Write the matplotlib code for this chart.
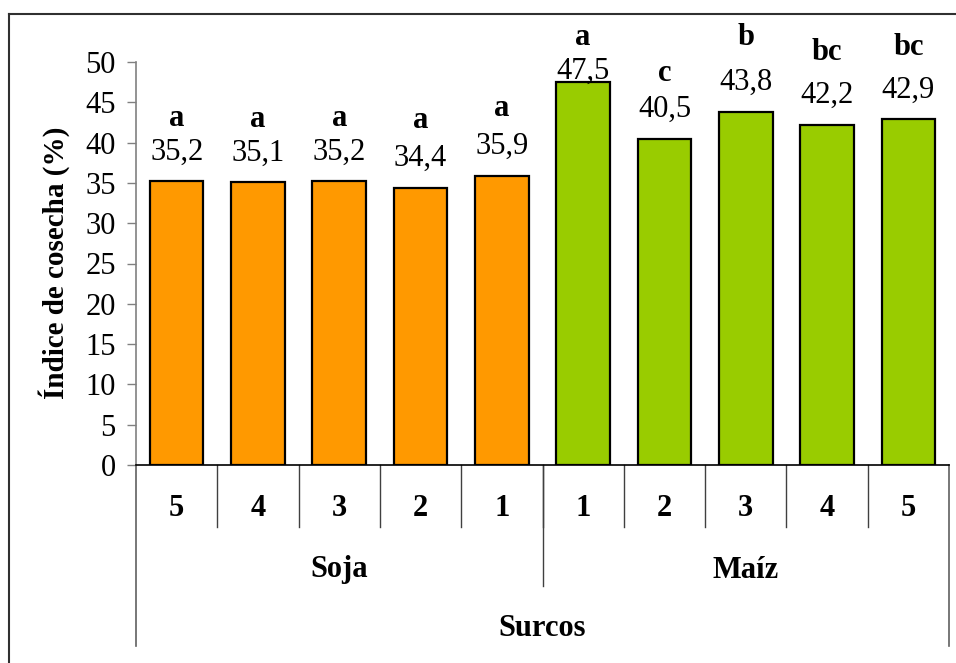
"""Harvest index bar chart for soybean and maize by row spacing."""

import matplotlib.pyplot as plt
from matplotlib.lines import Line2D

# Row-spacing labels (first level) and crop groups (second level)
surcos = ["5", "4", "3", "2", "1", "1", "2", "3", "4", "5"]
cultivos = ["Soja", "Maíz"]
n_por_cultivo = [5, 5]

# Harvest index (%) per bar
indice = [35.2, 35.1, 35.2, 34.4, 35.9, 47.5, 40.5, 43.8, 42.2, 42.9]
# Significance letters per bar
letras = ["a", "a", "a", "a", "a", "a", "c", "b", "bc", "bc"]

colores_cultivo = ["#FF9900", "#99CC00"]
letra_sep = [4.1, 4.1, 4.1, 4.7, 4.7, 4.2, 4.5, 5.6, 5.3, 5.3]  # gap above value label, data units

plt.rcParams["font.family"] = "serif"
plt.rcParams["font.serif"] = ["Liberation Serif"]
FS = 22

W, H, DPI = 956, 663, 100
fig = plt.figure(figsize=(W / DPI, H / DPI), dpi=DPI)

# axes box in pixels: left, top, right, bottom
ax_l, ax_t, ax_r, ax_b = 136, 62, 949, 465
ax = fig.add_axes([ax_l / W, 1 - ax_b / H, (ax_r - ax_l) / W, (ax_b - ax_t) / H])

colores = []
for c, n in zip(colores_cultivo, n_por_cultivo):
    colores += [c] * n

x = list(range(len(indice)))
ax.bar(x, indice, width=0.66, color=colores, edgecolor="black", linewidth=1.6, zorder=3)

ax.set_xlim(-0.5, len(indice) - 0.5)
ax.set_ylim(0, 50)
ax.set_yticks(range(0, 51, 5))
ax.tick_params(axis="y", direction="out", length=6.5, width=1, color="#808080",
               labelsize=FS, pad=8)
ax.set_xticks([])
for s in ("top", "right"):
    ax.spines[s].set_visible(False)
ax.spines["left"].set_color("#808080")
ax.spines["left"].set_linewidth(1.2)
ax.spines["bottom"].set_color("black")
ax.spines["bottom"].set_linewidth(1.2)

# value labels and letters above bars
tope = 47.9
for xi, v, l, sep in zip(x, indice, letras, letra_sep):
    y_val = min(v + 2.7, tope)
    ax.text(xi, y_val, f"{v:.1f}".replace(".", ","), ha="center", va="baseline",
            fontsize=FS, clip_on=False, zorder=4)
    ax.text(xi, y_val + sep, l, ha="center", va="baseline", fontsize=FS,
            fontweight="bold", clip_on=False, zorder=4)

# multi-level category axis below the plot
trans = ax.get_xaxis_transform()
px = 1.0 / (ax_b - ax_t)
y_cat = -(527 - ax_b) * px
y_grp = -(586 - ax_b) * px
y_out = -(646 - ax_b) * px

for xi, lab in zip(x, surcos):
    ax.text(xi, -(509 - ax_b) * px, lab, transform=trans, ha="center", va="center",
            fontsize=FS, fontweight="bold")

for b in range(1, len(indice)):
    ax.add_line(Line2D([b - 0.5, b - 0.5], [0, y_cat], transform=trans, color="#404040",
                       lw=1.0, clip_on=False))

inicio = 0
limites = []
for nombre, n in zip(cultivos, n_por_cultivo):
    centro = inicio + (n - 1) / 2
    ax.text(centro, -(570 - ax_b) * px, nombre, transform=trans, ha="center",
            va="center", fontsize=FS, fontweight="bold")
    inicio += n
    limites.append(inicio - 0.5)
for b in limites[:-1]:
    ax.add_line(Line2D([b, b], [0, y_grp], transform=trans, color="#404040",
                       lw=1.0, clip_on=False))
for b in (-0.5, len(indice) - 0.5):
    ax.add_line(Line2D([b, b], [0, y_out], transform=trans, color="#606060",
                       lw=1.2, clip_on=False))

ax.text((len(indice) - 1) / 2, -(628 - ax_b) * px, "Surcos", transform=trans,
        ha="center", va="center", fontsize=FS, fontweight="bold")

ax.set_ylabel("Índice de cosecha (%)", fontsize=21, fontweight="bold")
ax.yaxis.set_label_coords((70 - ax_l) / (ax_r - ax_l), (ax_b - 263) / (ax_b - ax_t))

# chart frame (top and left edges)
fig.add_artist(Line2D([9 / W, 1], [1 - 14 / H, 1 - 14 / H], color="#303030", lw=1.5))
fig.add_artist(Line2D([9 / W, 9 / W], [1 - 14 / H, 0], color="#303030", lw=1.5))

fig.savefig("out.png", dpi=DPI)
plt.close(fig)
